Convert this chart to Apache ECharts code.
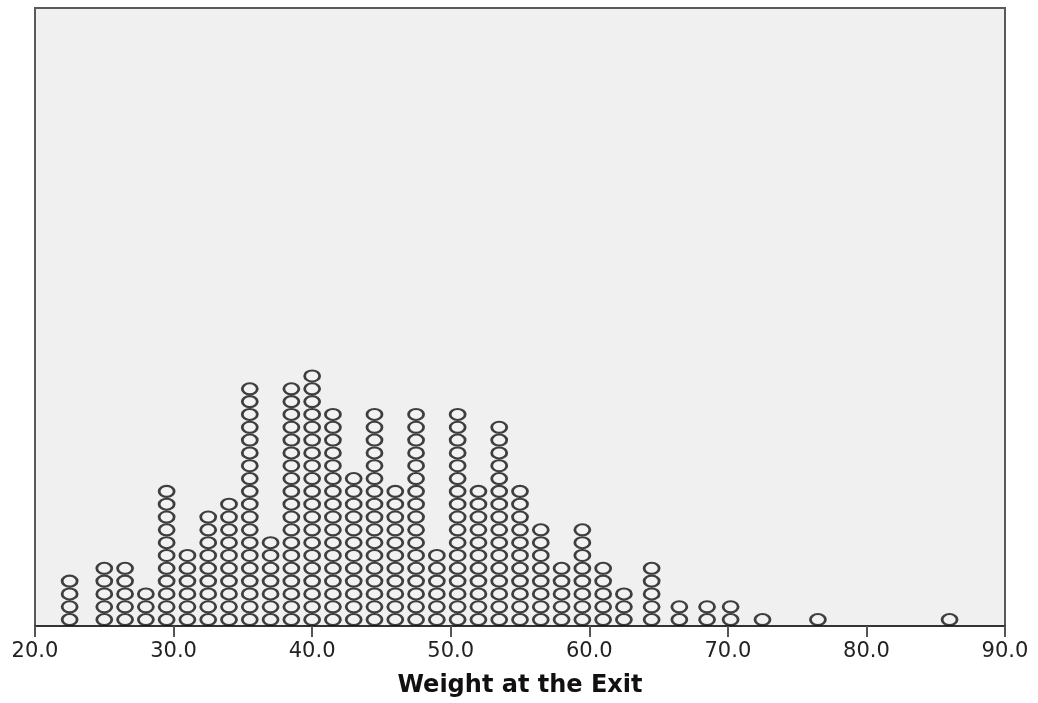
<!DOCTYPE html>
<html>
<head>
<meta charset="utf-8">
<script src="https://cdn.jsdelivr.net/npm/echarts@6/dist/echarts.min.js"></script>
<style>
  html, body { margin: 0; padding: 0; background: #fff; }
  #chart { width: 1038px; height: 703px; }
</style>
</head>
<body>
<div id="chart"></div>
<script>
// bin centres (kg) and how many cases fall in each bin
var binCenters = [22.5, 25.0, 26.5, 28.0, 29.5, 31.0, 32.5, 34.0, 35.5, 37.0,
                  38.5, 40.0, 41.5, 43.0, 44.5, 46.0, 47.5, 49.0, 50.5, 52.0,
                  53.5, 55.0, 56.5, 58.0, 59.5, 61.0, 62.5, 64.5, 66.5, 68.5,
                  70.2, 72.5, 76.5, 86.0];
var binCounts = [4, 5, 5, 3, 11, 6, 9, 10, 19, 7,
                 19, 20, 17, 12, 17, 11, 17, 6, 17, 11,
                 16, 11, 8, 5, 8, 5, 3, 5, 2, 2,
                 2, 1, 1, 1];
var xTicks = [20, 30, 40, 50, 60, 70, 80, 90];
var axisTitle = 'Weight at the Exit';

// stack one dot per case
var dots = [];
for (var i = 0; i < binCenters.length; i++) {
	for (var k = 1; k <= binCounts[i]; k++) {
		dots.push([binCenters[i], k - 0.5]);
	}
}

var chartObj = echarts.init(document.getElementById('chart'));
var option = {
    animation: false,
    backgroundColor: '#fff',
    grid: {
        left: 35,
        right: 33,
        top: 8,
        bottom: 76,
        show: true,
        backgroundColor: '#f0f0f0',
        borderColor: '#5a5a5a',
        borderWidth: 2
    },
    xAxis: {
        type: 'value',
        min: xTicks[0],
        max: xTicks[xTicks.length - 1],
        interval: 10,
        name: axisTitle,
        nameLocation: 'middle',
        nameGap: 48,
        nameTextStyle: {
            fontFamily: 'DejaVu Sans',
            fontWeight: 'bold',
            fontSize: 24,
            color: '#111'
        },
        axisLine: { show: true, lineStyle: { color: '#333', width: 2 } },
        axisTick: { show: true, inside: false, length: 11, lineStyle: { color: '#555', width: 2 } },
        axisLabel: {
            margin: 15,
            fontFamily: 'DejaVu Sans',
            fontSize: 21,
            color: '#222',
            formatter: function (v) { return v.toFixed(1); }
        },
        splitLine: { show: false }
    },
    yAxis: {
        type: 'value',
        min: 0,
        max: 48.2,
        show: false,
        splitLine: { show: false }
    },
    series: [
        {
            type: 'scatter',
            symbol: 'circle',
            symbolSize: [15, 11],
            itemStyle: {
                color: '#f2f2f2',
                borderColor: '#111',
                borderWidth: 2.4
            },
            data: dots
        }
    ]
};
chartObj.setOption(option);
</script>
</body>
</html>
